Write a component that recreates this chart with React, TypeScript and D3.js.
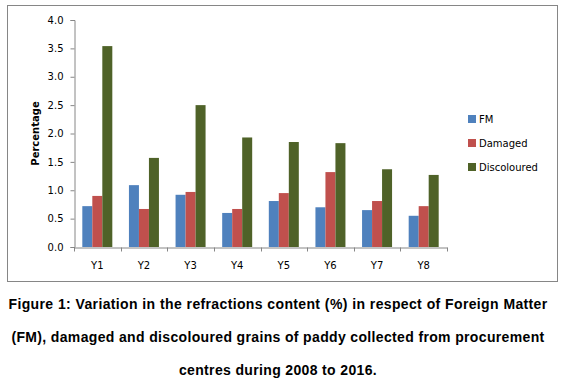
import React, { useEffect, useRef } from 'react'
import * as d3 from 'd3'

const years = ['Y1', 'Y2', 'Y3', 'Y4', 'Y5', 'Y6', 'Y7', 'Y8']
const seriesNames = ['FM', 'Damaged', 'Discoloured']
const fm = [0.72, 1.09, 0.92, 0.6, 0.81, 0.7, 0.65, 0.55]
const damaged = [0.9, 0.67, 0.97, 0.67, 0.95, 1.32, 0.81, 0.72]
const discoloured = [3.54, 1.57, 2.5, 1.93, 1.85, 1.83, 1.37, 1.27]
const yTicks = [0, 0.5, 1, 1.5, 2, 2.5, 3, 3.5, 4]
const colors = ['#4f81bd', '#c0504d', '#4f6228']
const caption = [
  'Figure 1: Variation in the refractions content (%) in respect of Foreign Matter',
  '(FM), damaged and discoloured grains of paddy collected from procurement',
  'centres during 2008 to 2016.'
]

export default function App() {
  const ref = useRef<SVGSVGElement>(null)

  useEffect(() => {
    const svg = d3.select(ref.current)
    svg.selectAll('*').remove()

    const left = 74, right = 447, top = 20, bottom = 247
    const tickFont = 'DejaVu Sans, Verdana, sans-serif'

    // chart frame
    svg.append('rect')
      .attr('x', 7.5).attr('y', 5.5)
      .attr('width', 550).attr('height', 276)
      .attr('fill', '#fff').attr('stroke', '#868686')

    const x = d3.scaleBand().domain(years).range([left, right])
    const inner = d3.scaleBand().domain(seriesNames)
      .range([0, 30])
    const y = d3.scaleLinear().domain([0, 4]).range([bottom, top])

    const data = years.map((yr, i) => ({ yr, vals: [fm[i], damaged[i], discoloured[i]] }))

    // bars
    const groups = svg.append('g').selectAll('g')
      .data(data).enter().append('g')
      .attr('transform', d => `translate(${x(d.yr)! + (x.bandwidth() - 30) / 2},0)`)
    groups.selectAll('rect')
      .data(d => d.vals.map((v, k) => ({ v, k })))
      .enter().append('rect')
      .attr('x', d => inner(seriesNames[d.k])!)
      .attr('width', inner.bandwidth())
      .attr('y', d => y(d.v))
      .attr('height', d => bottom - y(d.v))
      .attr('fill', d => colors[d.k])

    // y axis
    const yAxis = svg.append('g')
      .attr('transform', `translate(${left + 0.5},0)`)
      .call(d3.axisLeft(y).tickValues(yTicks).tickFormat(d3.format('.1f')).tickSize(4).tickPadding(7))
    yAxis.select('.domain').attr('stroke', '#868686')
    yAxis.selectAll('line').attr('stroke', '#868686')
    yAxis.selectAll('text').attr('font-family', tickFont).attr('font-size', 10).attr('fill', '#000')

    // x axis
    const xAxis = svg.append('g')
      .attr('transform', `translate(0,${bottom + 0.5})`)
      .call(d3.axisBottom(x).tickSize(0).tickPadding(14))
    xAxis.select('.domain').attr('stroke', '#868686')
    xAxis.selectAll('text').attr('font-family', tickFont).attr('font-size', 10).attr('fill', '#000')
    xAxis.selectAll('.sep')
      .data([...years.map(d => x(d)!), right])
      .enter().append('line')
      .attr('x1', d => Math.round(d) + 0.5).attr('x2', d => Math.round(d) + 0.5)
      .attr('y1', 0).attr('y2', 4)
      .attr('stroke', '#868686')

    // y title
    svg.append('text')
      .attr('transform', `translate(39,${(top + bottom) / 2}) rotate(-90)`)
      .attr('text-anchor', 'middle')
      .attr('font-family', 'DejaVu Sans, sans-serif')
      .attr('font-weight', 'bold')
      .attr('font-size', 10)
      .text('Percentage')

    // legend
    const legend = svg.append('g').selectAll('g')
      .data(seriesNames).enter().append('g')
      .attr('transform', (d, i) => `translate(468,${119 + i * 24})`)
    legend.append('rect')
      .attr('x', 0).attr('y', -4).attr('width', 8).attr('height', 8)
      .attr('fill', (d, i) => colors[i])
    legend.append('text')
      .attr('x', 11).attr('y', 4)
      .attr('font-family', tickFont).attr('font-size', 10)
      .text(d => d)

    // caption, first two lines justified (stretch word spacing)
    const lineWidths = [539, 532, 0]
    svg.append('g').selectAll('text')
      .data(caption).enter().append('text')
      .attr('x', 278).attr('y', (d, i) => 309 + i * 33)
      .attr('text-anchor', 'middle')
      .attr('font-family', 'Liberation Sans, Arial, sans-serif')
      .attr('font-weight', 'bold')
      .attr('font-size', 14)
      .attr('letter-spacing', 0.35)
      .text(d => d)
      .each(function (d, i) {
        if (!lineWidths[i]) return
        const el = this as SVGTextElement
        const w = el.getComputedTextLength()
        const gaps = d.split(' ').length - 1
        if (w < lineWidths[i]) el.setAttribute('word-spacing', String((lineWidths[i] - w) / gaps))
      })
  }, [])

  return (
    <svg ref={ref} width={565} height={384}
      style={{ position: 'absolute', left: 0, top: 0, background: '#fff' }} />
  )
}
